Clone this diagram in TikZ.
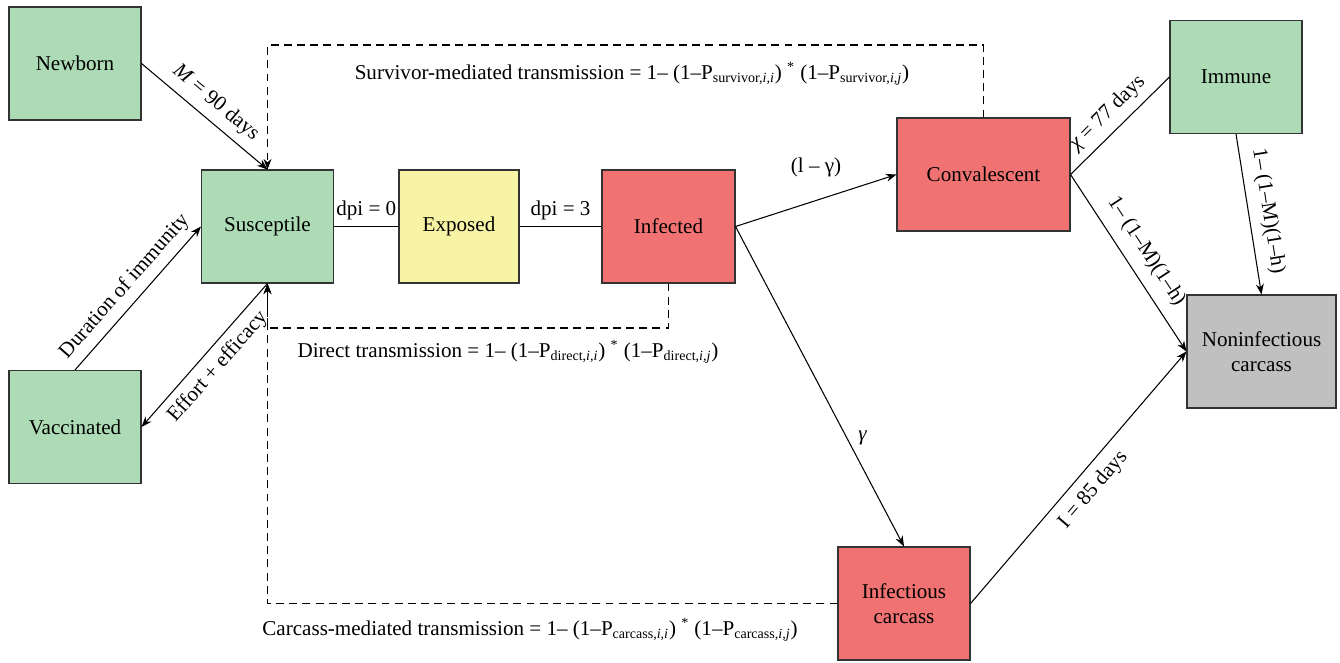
\documentclass[tikz,border=0pt]{standalone}
\usepackage{fontspec}
\setmainfont{Liberation Serif}
\usetikzlibrary{arrows.meta, positioning}

\definecolor{healthy}{HTML}{ADDBB5}
\definecolor{latent}{HTML}{F8F4A6}
\definecolor{sick}{HTML}{F07272}
\definecolor{dead}{HTML}{C0C0C0}
\definecolor{edge}{HTML}{333333}

\begin{document}
\begin{tikzpicture}[
    x=0.02cm, y=-0.02cm,
    font=\fontsize{12}{14}\selectfont,
    box/.style={rectangle, draw=edge, line width=0.6pt, minimum width=2.64cm, minimum height=2.26cm, align=center},
    arrow/.style={line width=0.6pt, ->, >={Stealth[length=6pt, width=4.5pt]}},
    link/.style={line width=0.6pt},
    dashline/.style={line width=0.6pt, dash pattern=on 4.5pt off 3pt, ->, >={Stealth[length=6pt, width=4.5pt]}}
]
    \useasboundingbox (0,0) rectangle (1340,663);

    % Compartments
    \node[box, fill=healthy] (newborn) at (75,63.5) {Newborn};
    \node[box, fill=healthy] (susc) at (267.5,226.5) {Susceptile};
    \node[box, fill=healthy] (vacc) at (75,427) {Vaccinated};
    \node[box, fill=latent, minimum width=2.4cm] (exposed) at (459,226.5) {Exposed};
    \node[box, fill=sick, minimum width=2.66cm] (infected) at (668.5,226.5) {Infected};
    \node[box, fill=sick, minimum width=3.46cm] (conv) at (983.5,174.5) {Convalescent};
    \node[box, fill=healthy] (immune) at (1236,77) {Immune};
    \node[box, fill=dead, minimum width=2.98cm] (ncarc) at (1261.5,351.5) {Noninfectious\\carcass};
    \node[box, fill=sick] (icarc) at (904,603.5) {Infectious\\carcass};

    % Transitions
    \draw[arrow] (newborn.east) -- node[midway, above=1pt, sloped] {\textit{M} = 90 days} (susc.north);
    \draw[arrow] (vacc.north) -- node[midway, above=1pt, sloped] {Duration of immunity} (susc.west);
    \draw[arrow, <-] (vacc.east) -- node[midway, below=1pt, sloped] {Effort + efficacy} (susc.south);
    \draw[link] (susc.east) -- node[midway, above] {dpi = 0} (exposed.west);
    \draw[link] (exposed.east) -- node[midway, above] {dpi = 3} (infected.west);
    \draw[arrow] (infected.east) -- node[midway, above=10pt] {(l – γ)} (conv.west);
    \draw[arrow] (infected.east) -- node[pos=0.66, right=3pt] {\textit{γ}} (icarc.north);
    \draw[link] (conv.east) -- node[midway, above=1pt, sloped] {\textit{χ} = 77 days} (immune.west);
    \draw[arrow] (conv.east) -- node[midway, above=3pt, sloped] {1– (1–M)(1–h)} (ncarc.west);
    \draw[arrow] (immune.south) -- node[midway, above=2pt, sloped] {1– (1–M)(1–h)} (ncarc.north);
    \draw[arrow] (icarc.east) -- node[midway, below=2pt, sloped] {I = 85 days} (ncarc.west);

    % Transmission routes
    \coordinate (survtop) at (0,45);
    \coordinate (directlow) at (0,328);
    \draw[dashline] (conv.north) -- (conv.north |- survtop) -| (susc.north);
    \draw[dashline] (infected.south) -- (infected.south |- directlow) -| (susc.south);
    \draw[dashline] (icarc.west) -| (susc.south);

    \node (survlabel) at (632,74) {Survivor-mediated transmission = 1– (1–P\textsubscript{survivor,\textit{i,i}}) \textsuperscript{*} (1–P\textsubscript{survivor,\textit{i,j}})};
    \node (directlabel) at (508,352) {Direct transmission = 1– (1–P\textsubscript{direct,\textit{i,i}}) \textsuperscript{*} (1–P\textsubscript{direct,\textit{i,j}})};
    \node (carclabel) at (530,630) {Carcass-mediated transmission = 1– (1–P\textsubscript{carcass,\textit{i,i}}) \textsuperscript{*} (1–P\textsubscript{carcass,\textit{i,j}})};
\end{tikzpicture}
\end{document}
